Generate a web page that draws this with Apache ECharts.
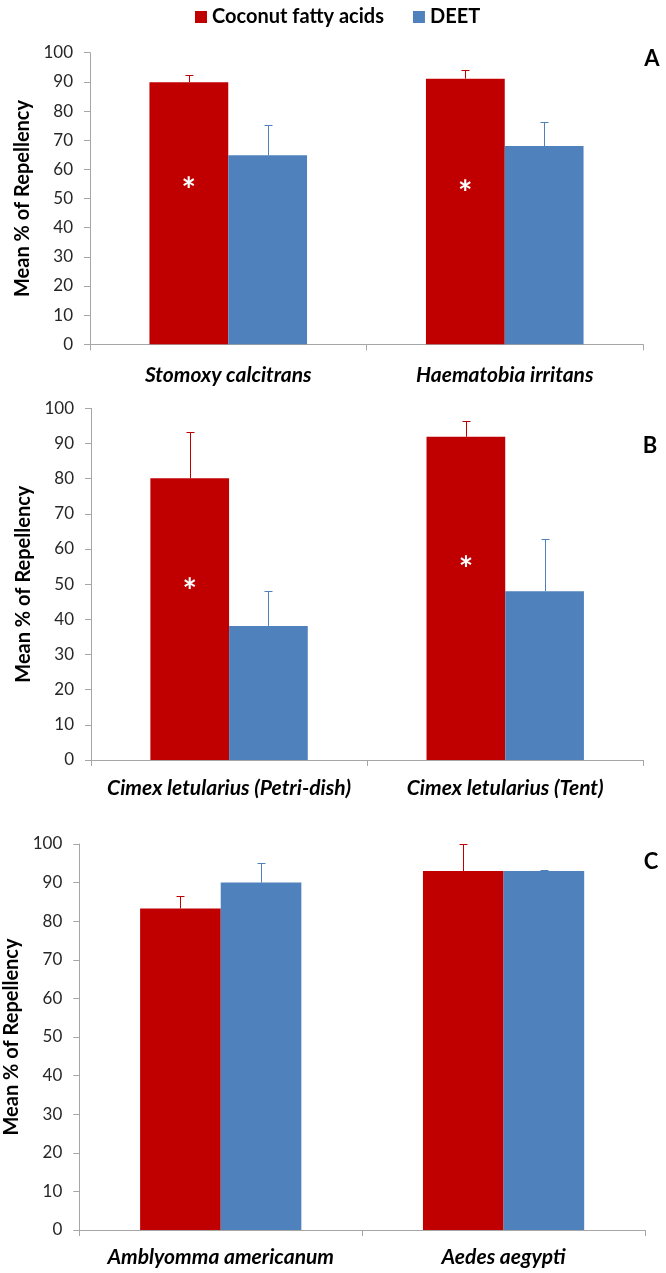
<!DOCTYPE html>
<html><head><meta charset="utf-8">
<script src="https://cdn.jsdelivr.net/npm/echarts@6/dist/echarts.min.js"></script>
<style>html,body{margin:0;padding:0;background:#fff}#c{width:666px;height:1273px}</style>
</head><body><div id="c"></div>
<script>
// ---- data ----
const seriesNames = ['Coconut fatty acids', 'DEET'];
const panelLetters = ['A', 'B', 'C'];
const catsA = ['Stomoxy calcitrans', 'Haematobia irritans'];
const catsB = ['Cimex letularius (Petri-dish)', 'Cimex letularius (Tent)'];
const catsC = ['Amblyomma americanum', 'Aedes aegypti'];
const coconutA = [89.9, 91.1];
const coconutErrTopA = [92.3, 94.1];
const deetA = [64.8, 68.0];
const deetErrTopA = [75.1, 76.2];
const coconutB = [80.1, 91.9];
const coconutErrTopB = [93.2, 96.4];
const deetB = [38.1, 48.0];
const deetErrTopB = [48.0, 62.8];
const coconutC = [83.3, 93.0];
const coconutErrTopC = [86.5, 99.9];
const deetC = [90.0, 93.0];
const deetErrTopC = [95.0, 93.2];
// asterisk (significance) positions on coconut bars, in y-axis units
const starA = [55.8, 54.6];
const starB = [50.2, 56.7];
const starC = [null, null];
const yMin = 0, yMax = 100, yStep = 10;

// ---- styling / layout ----
const RED = '#C00000', BLUE = '#4F81BD', AXIS = '#A6A6A6';
const FONT = 'Lato, "Open Sans", sans-serif';
const GAP = 0.43; // barCategoryGap
const grids = [
  {left: 90, width: 553, top: 52.7, height: 291.6, outerBoundsMode: 'none', containLabel: false},
  {left: 91, width: 552.3, top: 408.3, height: 351.7, outerBoundsMode: 'none', containLabel: false},
  {left: 79.3, width: 565.7, top: 844, height: 386, outerBoundsMode: 'none', containLabel: false}
];
const nameGaps = [54, 54, 50];
const labelMargins = [20, 18, 17];
const panels = [
  {cats: catsA, c: coconutA, ce: coconutErrTopA, d: deetA, de: deetErrTopA, s: starA},
  {cats: catsB, c: coconutB, ce: coconutErrTopB, d: deetB, de: deetErrTopB, s: starB},
  {cats: catsC, c: coconutC, ce: coconutErrTopC, d: deetC, de: deetErrTopC, s: starC}
];

function errRender(sign, color) {
  return function (params, api) {
    const cat = api.value(0), mean = api.value(1), top = api.value(2);
    const p0 = api.coord([cat, mean]);
    const p1 = api.coord([cat, top]);
    const bw = api.size([1, 0])[0] * (1 - GAP) / 2;
    const x = Math.round(p0[0] + sign * bw / 2) + 0.5;
    const cap = 4;
    return {type: 'group', children: [
      {type: 'line', shape: {x1: x, y1: p0[1], x2: x, y2: p1[1]}, style: {stroke: color, lineWidth: 1}},
      {type: 'line', shape: {x1: x - cap, y1: Math.round(p1[1]) + 0.5, x2: x + cap, y2: Math.round(p1[1]) + 0.5}, style: {stroke: color, lineWidth: 1}}
    ]};
  };
}
function starRender(params, api) {
  const cat = api.value(0), v = api.value(1);
  const p = api.coord([cat, v]);
  const bw = api.size([1, 0])[0] * (1 - GAP) / 2;
  return {type: 'text', x: p[0] - bw / 2, y: p[1] + 9, style: {
    text: '*', fill: '#fff', font: 'bold 34px ' + FONT, align: 'center', verticalAlign: 'middle'
  }};
}

const xAxis = [], yAxis = [], series = [];
panels.forEach((p, i) => {
  xAxis.push({
    type: 'category', gridIndex: i, data: p.cats,
    axisLine: {lineStyle: {color: AXIS, width: 1}},
    axisTick: {show: true, length: 6, lineStyle: {color: AXIS}},
    axisLabel: {interval: 0, margin: labelMargins[i], fontFamily: FONT, fontSize: 21, fontWeight: 'bold', fontStyle: 'italic', color: '#000'}
  });
  yAxis.push({
    type: 'value', gridIndex: i, min: yMin, max: yMax, interval: yStep,
    name: 'Mean % of Repellency', nameLocation: 'middle', nameGap: nameGaps[i],
    nameTextStyle: {fontFamily: FONT, fontSize: 20, fontWeight: 'bold', color: '#000'},
    axisLine: {show: true, lineStyle: {color: AXIS, width: 1}},
    axisTick: {show: true, length: 6, lineStyle: {color: AXIS}},
    splitLine: {show: false},
    axisLabel: {margin: 17, fontFamily: FONT, fontSize: 17, color: '#262626'}
  });
  series.push({
    name: seriesNames[0], type: 'bar', xAxisIndex: i, yAxisIndex: i, data: p.c,
    barGap: '0%', barCategoryGap: (GAP * 100) + '%', itemStyle: {color: RED}, z: 2
  });
  series.push({
    name: seriesNames[1], type: 'bar', xAxisIndex: i, yAxisIndex: i, data: p.d,
    barGap: '0%', barCategoryGap: (GAP * 100) + '%', itemStyle: {color: BLUE}, z: 2
  });
  series.push({
    type: 'custom', xAxisIndex: i, yAxisIndex: i, z: 3, silent: true,
    renderItem: errRender(-1, RED),
    data: p.c.map((v, k) => [k, v, p.ce[k]])
  });
  series.push({
    type: 'custom', xAxisIndex: i, yAxisIndex: i, z: 3, silent: true,
    renderItem: errRender(1, BLUE),
    data: p.d.map((v, k) => [k, v, p.de[k]])
  });
  const stars = p.s.map((v, k) => [k, v]).filter(d => d[1] != null);
  if (stars.length) series.push({
    type: 'custom', xAxisIndex: i, yAxisIndex: i, z: 4, silent: true,
    renderItem: starRender, data: stars
  });
});

const letterPos = [[652, 59], [650, 446], [651, 862]];
const graphic = panelLetters.map((t, i) => ({
  type: 'text', x: letterPos[i][0], y: letterPos[i][1],
  style: {text: t, font: 'bold 22px ' + FONT, fill: '#000', align: 'center', verticalAlign: 'middle'}
}));

const chart = echarts.init(document.getElementById('c'), null, {renderer: 'canvas'});
chart.setOption({
  animation: false,
  backgroundColor: '#fff',
  legend: {
    data: seriesNames, left: 190, top: 2, icon: 'rect', itemWidth: 12, itemHeight: 12, itemGap: 29,
    textStyle: {fontFamily: FONT, fontSize: 20, fontWeight: 'bold', color: '#000'}
  },
  grid: grids,
  xAxis: xAxis,
  yAxis: yAxis,
  series: series,
  graphic: graphic
});
</script>
</body></html>
